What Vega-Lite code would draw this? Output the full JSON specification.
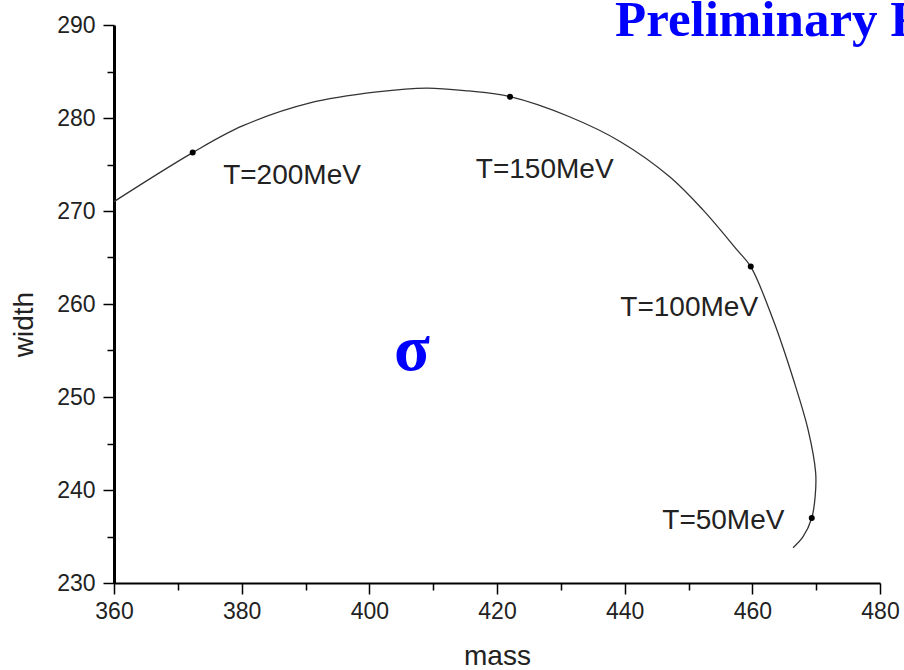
{
  "$schema": "https://vega.github.io/schema/vega-lite/v6.json",
  "width": 766,
  "height": 558,
  "autosize": {"type": "none"},
  "padding": {"left": 114, "top": 25, "right": 24, "bottom": 87},
  "background": "white",
  "config": {"view": {"stroke": null}, "font": "Liberation Sans"},
  "datasets": {
    "curve": [
      {"i": 0, "mass": 360.0, "width": 271.01},
      {"i": 1, "mass": 372.33, "width": 276.28},
      {"i": 2, "mass": 380.21, "width": 279.17},
      {"i": 3, "mass": 390.71, "width": 281.62},
      {"i": 4, "mass": 401.2, "width": 282.8},
      {"i": 5, "mass": 409.0, "width": 283.22},
      {"i": 6, "mass": 415.46, "width": 282.91},
      {"i": 7, "mass": 422.04, "width": 282.29},
      {"i": 8, "mass": 431.44, "width": 280.11},
      {"i": 9, "mass": 439.27, "width": 277.48},
      {"i": 10, "mass": 447.1, "width": 273.66},
      {"i": 11, "mass": 452.27, "width": 270.12},
      {"i": 12, "mass": 457.6, "width": 265.82},
      {"i": 13, "mass": 459.75, "width": 264.02},
      {"i": 14, "mass": 463.26, "width": 258.3},
      {"i": 15, "mass": 466.45, "width": 251.85},
      {"i": 16, "mass": 468.74, "width": 246.47},
      {"i": 17, "mass": 469.92, "width": 241.85},
      {"i": 18, "mass": 469.84, "width": 239.27},
      {"i": 19, "mass": 469.31, "width": 236.99},
      {"i": 20, "mass": 467.95, "width": 234.98},
      {"i": 21, "mass": 466.38, "width": 233.79}
    ],
    "temps": [
      {"T": "T=200MeV", "mass": 372.33, "width": 276.28, "lx": 387.89, "ly": 272.91},
      {"T": "T=150MeV", "mass": 422.04, "width": 282.29, "lx": 427.47, "ly": 273.56},
      {"T": "T=100MeV", "mass": 459.75, "width": 264.02, "lx": 450.11, "ly": 258.73},
      {"T": "T=50MeV", "mass": 469.31, "width": 236.99, "lx": 455.46, "ly": 235.8}
    ],
    "notes": [
      {"txt": "σ", "mass": 406.69, "width": 252.92},
      {"txt": "Preliminary Results", "mass": 438.49, "width": 288.8}
    ]
  },
  "layer": [
    {
      "data": {"name": "curve"},
      "mark": {"type": "line", "color": "#333333", "strokeWidth": 1.3, "interpolate": "catmull-rom"},
      "encoding": {
        "x": {
          "field": "mass", "type": "quantitative",
          "scale": {"domain": [360, 480], "nice": false, "zero": false},
          "axis": {
            "values": [360, 370, 380, 390, 400, 410, 420, 430, 440, 450, 460, 470, 480],
            "labelExpr": "datum.value % 20 === 0 ? datum.label : ''",
            "tickSize": {"condition": {"test": "datum.value % 20 === 0", "value": 11}, "value": 7},
            "title": "mass",
            "titleFontSize": 28, "titleFontWeight": "normal", "titleColor": "#222222",
            "titleY": 81, "titleBaseline": "alphabetic",
            "labelFontSize": 23, "labelColor": "#222222", "labelPadding": 6,
            "labelFlush": false, "labelOverlap": false,
            "domainColor": "black", "domainWidth": 2,
            "tickColor": "black", "tickWidth": 1.5, "grid": false
          }
        },
        "y": {
          "field": "width", "type": "quantitative",
          "scale": {"domain": [230, 290], "nice": false, "zero": false},
          "axis": {
            "values": [230, 235, 240, 245, 250, 255, 260, 265, 270, 275, 280, 285, 290],
            "labelExpr": "datum.value % 10 === 0 ? datum.label : ''",
            "tickSize": {"condition": {"test": "datum.value % 10 === 0", "value": 11}, "value": 7},
            "title": "width",
            "titleFontSize": 28, "titleFontWeight": "normal", "titleColor": "#222222",
            "titleX": -82, "titleY": 299, "titleAngle": 270, "titleBaseline": "alphabetic", "titleAlign": "center",
            "labelFontSize": 23, "labelColor": "#222222", "labelPadding": 8,
            "labelFlush": false, "labelOverlap": false,
            "domainColor": "black", "domainWidth": 3,
            "tickColor": "black", "tickWidth": 1.5, "grid": false
          }
        },
        "order": {"field": "i", "type": "quantitative"}
      }
    },
    {
      "data": {"name": "temps"},
      "mark": {"type": "point", "filled": true, "color": "black", "size": 36, "opacity": 1},
      "encoding": {
        "x": {"field": "mass", "type": "quantitative", "scale": {"domain": [360, 480], "nice": false, "zero": false}},
        "y": {"field": "width", "type": "quantitative", "scale": {"domain": [230, 290], "nice": false, "zero": false}}
      }
    },
    {
      "data": {"name": "temps"},
      "mark": {"type": "text", "align": "center", "baseline": "alphabetic", "fontSize": 28, "font": "Liberation Sans", "color": "#222222"},
      "encoding": {
        "x": {"field": "lx", "type": "quantitative", "scale": {"domain": [360, 480], "nice": false, "zero": false}},
        "y": {"field": "ly", "type": "quantitative", "scale": {"domain": [230, 290], "nice": false, "zero": false}},
        "text": {"field": "T"}
      }
    },
    {
      "data": {"name": "notes"},
      "transform": [{"filter": "datum.txt === 'σ'"}],
      "mark": {"type": "text", "align": "center", "baseline": "alphabetic", "fontSize": 66, "font": "Liberation Serif", "fontWeight": "bold", "color": "#0000FF"},
      "encoding": {
        "x": {"field": "mass", "type": "quantitative", "scale": {"domain": [360, 480], "nice": false, "zero": false}},
        "y": {"field": "width", "type": "quantitative", "scale": {"domain": [230, 290], "nice": false, "zero": false}},
        "text": {"field": "txt"}
      }
    },
    {
      "data": {"name": "notes"},
      "transform": [{"filter": "datum.txt !== 'σ'"}],
      "mark": {"type": "text", "align": "left", "baseline": "alphabetic", "fontSize": 51, "font": "Liberation Serif", "fontWeight": "bold", "color": "#0000FF"},
      "encoding": {
        "x": {"field": "mass", "type": "quantitative", "scale": {"domain": [360, 480], "nice": false, "zero": false}},
        "y": {"field": "width", "type": "quantitative", "scale": {"domain": [230, 290], "nice": false, "zero": false}},
        "text": {"field": "txt"}
      }
    }
  ]
}
